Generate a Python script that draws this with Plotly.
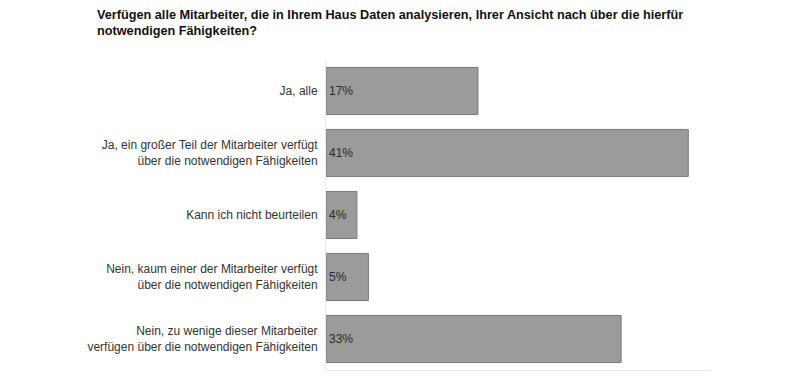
import plotly.graph_objects as go

categories = [
    "Ja, alle",
    "Ja, ein großer Teil der Mitarbeiter verfügt<br>über die notwendigen Fähigkeiten",
    "Kann ich nicht beurteilen",
    "Nein, kaum einer der Mitarbeiter verfügt<br>über die notwendigen Fähigkeiten",
    "Nein, zu wenige dieser Mitarbeiter<br>verfügen über die notwendigen Fähigkeiten",
]
values = [17.2, 41.0, 3.5, 4.8, 33.4]
labels = ["17%", "41%", "4%", "5%", "33%"]
title_lines = [
    "Verfügen alle Mitarbeiter, die in Ihrem Haus Daten analysieren, Ihrer Ansicht nach über die hierfür",
    "notwendigen Fähigkeiten?",
]

FONT = "Liberation Sans, Arial, sans-serif"
W, H = 800, 382
OFF = 8  # page body margin offset

fig = go.Figure(go.Bar(
    x=values,
    y=categories,
    orientation="h",
    text=labels,
    textposition="inside",
    insidetextanchor="start",
    constraintext="none",
    textfont=dict(family=FONT, size=12, color="#2a2a2a"),
    marker=dict(color="#9b9b9b", line=dict(color="#7a7a7a", width=1)),
    width=0.76,
    hoverinfo="skip",
))

title_y = [14.5, 31.5]
for line, yc in zip(title_lines, title_y):
    fig.add_annotation(
        text="<b>" + line + "</b>",
        xref="paper", yref="paper",
        x=(95 - 326) / (711 - 326),
        y=1 + (60 - yc) / (370 - 60),
        xanchor="left", yanchor="middle",
        showarrow=False,
        font=dict(family=FONT, size=12.7, color="#111111"),
    )

fig.update_layout(
    width=W,
    height=H,
    paper_bgcolor="white",
    plot_bgcolor="white",
    margin=dict(l=326 - OFF, r=W - (711 - OFF), t=60 - OFF, b=H - (370 - OFF), autoexpand=False),
    showlegend=False,
    font=dict(family=FONT, size=12, color="#333333"),
)
fig.update_xaxes(
    range=[0, 43.57],
    showgrid=False,
    showticklabels=False,
    zeroline=False,
    showline=True,
    linecolor="#e8e8e8",
    linewidth=1,
    ticks="",
    automargin=False,
    fixedrange=True,
)
fig.update_yaxes(
    autorange="reversed",
    showgrid=False,
    zeroline=False,
    showline=True,
    linecolor="#ececec",
    linewidth=1,
    ticks="",
    ticklabelstandoff=5,
    automargin=False,
    tickfont=dict(family=FONT, size=12, color="#333333"),
    fixedrange=True,
)

fig.write_html("out.html")
